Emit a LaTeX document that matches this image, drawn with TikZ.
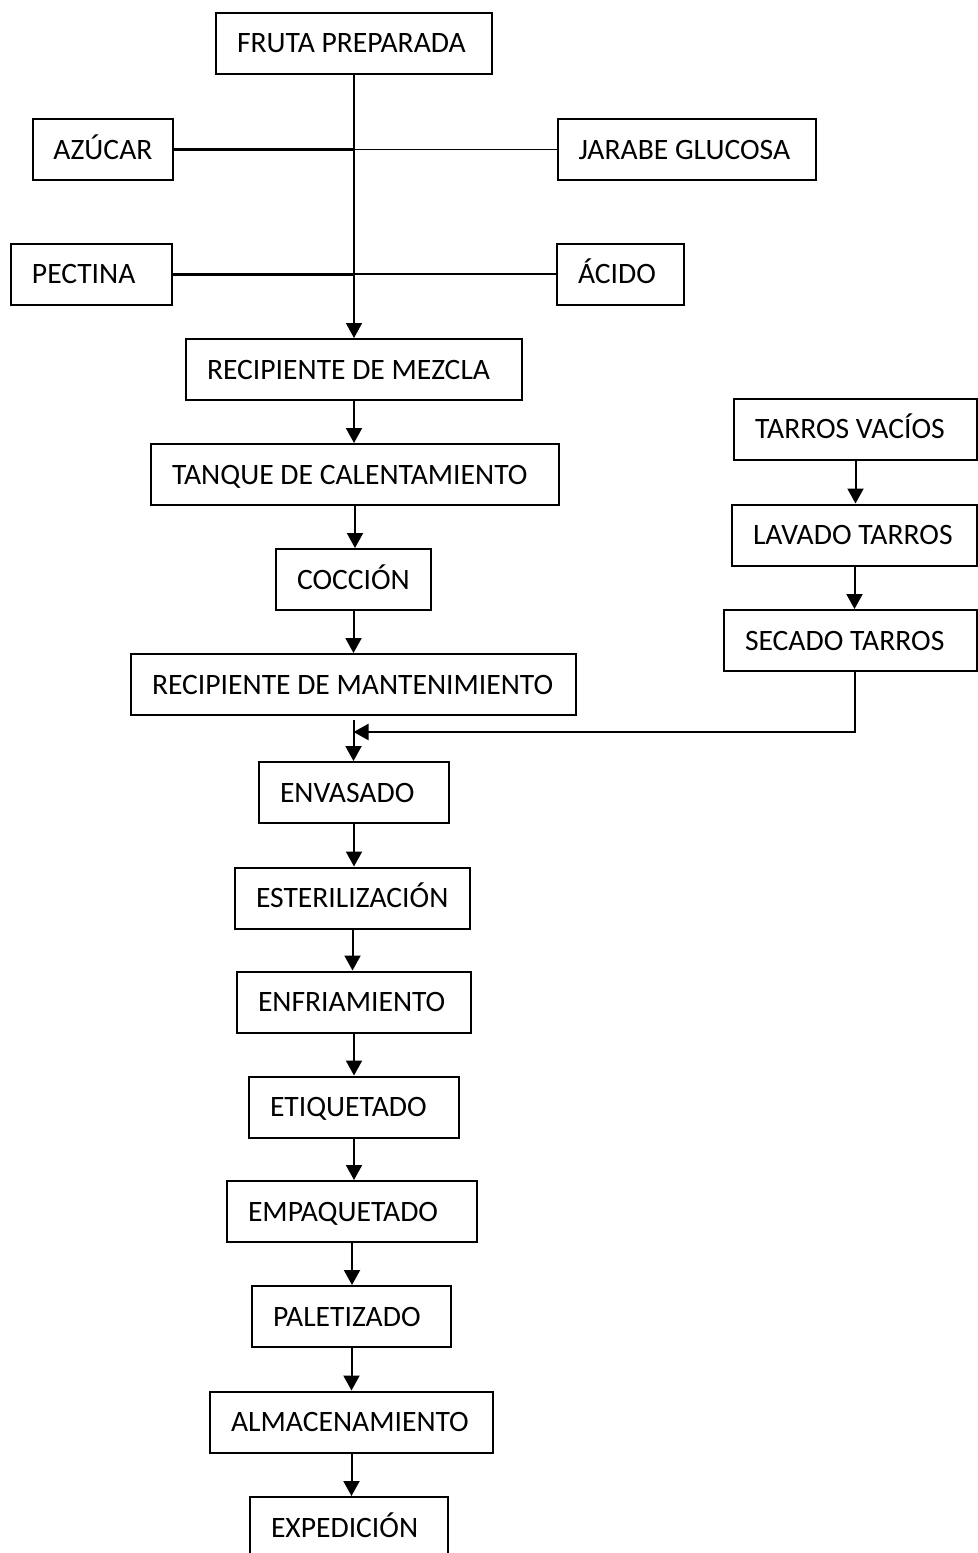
\documentclass[tikz,border=0pt]{standalone}
\usepackage{fontspec}
\setmainfont{Carlito}
\usetikzlibrary{arrows.meta}
\begin{document}
\begin{tikzpicture}[x=0.5pt,y=-0.5pt,
  box/.style={draw, line width=1pt, minimum height=30.5pt, inner xsep=10.5pt, inner ysep=0pt,
    text height=9.5pt, text depth=0pt, anchor=center, font=\fontsize{14.8pt}{17pt}\selectfont},
  flow/.style={line width=1pt, -{Triangle[width=8pt,length=7.5pt]}},
  thin/.style={line width=0.8pt},
  thick/.style={line width=1.5pt}]
\useasboundingbox (0,0) rectangle (978,1553);
% main column
\node[box, minimum width=138pt] (fruta) at (354,43) {\makebox[117pt][l]{FRUTA PREPARADA}};
\node[box, minimum width=70pt] (azucar) at (102.5,149.5) {\makebox[49pt][l]{AZÚCAR}};
\node[box, minimum width=129.25pt] (jarabe) at (686.75,149.5) {\makebox[108.25pt][l]{JARABE GLUCOSA}};
\node[box, minimum width=80.5pt] (pectina) at (91.5,274) {\makebox[59.5pt][l]{PECTINA}};
\node[box, minimum width=63.5pt] (acido) at (620.5,274) {\makebox[42.5pt][l]{ÁCIDO}};
\node[box, minimum width=168pt] (mezcla) at (354,369.5) {\makebox[147pt][l]{RECIPIENTE DE MEZCLA}};
\node[box, minimum width=204pt] (tanque) at (355,474.5) {\makebox[183pt][l]{TANQUE DE CALENTAMIENTO}};
\node[box, minimum width=77.5pt] (coccion) at (353.5,579.5) {\makebox[56.5pt][l]{COCCIÓN}};
\node[box, minimum width=222.5pt] (mant) at (353.5,684.5) {\makebox[201.5pt][l]{RECIPIENTE DE MANTENIMIENTO}};
% jars branch
\node[box, minimum width=121.5pt] (tarros) at (855.5,429) {\makebox[100.5pt][l]{TARROS VACÍOS}};
\node[box, minimum width=122.5pt] (lavado) at (854.5,535) {\makebox[101.5pt][l]{LAVADO TARROS}};
\node[box, minimum width=126.5pt] (secado) at (850.5,640.5) {\makebox[105.5pt][l]{SECADO TARROS}};
% lower column
\node[box, minimum width=95pt] (envasado) at (354,792.5) {\makebox[74pt][l]{ENVASADO}};
\node[box, minimum width=117.5pt] (ester) at (352.5,898) {\makebox[96.5pt][l]{ESTERILIZACIÓN}};
\node[box, minimum width=117pt] (enfri) at (354,1002) {\makebox[96pt][l]{ENFRIAMIENTO}};
\node[box, minimum width=105pt] (etiq) at (354,1107) {\makebox[84pt][l]{ETIQUETADO}};
\node[box, minimum width=125pt] (empaq) at (352,1211.5) {\makebox[104pt][l]{EMPAQUETADO}};
\node[box, minimum width=99.5pt] (palet) at (351.5,1316.5) {\makebox[78.5pt][l]{PALETIZADO}};
\node[box, minimum width=141.5pt] (almac) at (351.5,1422) {\makebox[120.5pt][l]{ALMACENAMIENTO}};
\node[box, minimum width=99pt] (exped) at (349,1527.5) {\makebox[78pt][l]{EXPEDICIÓN}};
% ingredient connectors
\draw[thick] (azucar.east) -- (azucar.east -| fruta.south);
\draw[thin] (jarabe.west) -- (jarabe.west -| fruta.south);
\draw[thick] (pectina.east) -- (pectina.east -| fruta.south);
\draw[thin] (acido.west) -- (acido.west -| fruta.south);
\draw[thin, -{Triangle[width=8pt,length=7.5pt]}] (fruta.south) -- (fruta.south |- mezcla.north);
% main flow
\draw[flow] (mezcla.south) -- (mezcla.south |- tanque.north);
\draw[flow] (tanque.south) -- (tanque.south |- coccion.north);
\draw[flow] (coccion.south) -- (coccion.south |- mant.north);
\coordinate (sj) at (855,732);
\coordinate (mj) at (mant.south |- sj);
\draw[flow, shorten <=2pt] (mant.south) -- (mant.south |- envasado.north);
\draw[flow] (secado.south -| sj) -- (sj) -- (mj);
\draw[flow] (tarros.south) -- (tarros.south |- lavado.north);
\draw[flow] (lavado.south) -- (lavado.south |- secado.north);
\draw[flow] (envasado.south) -- (envasado.south |- ester.north);
\draw[flow] (ester.south) -- (ester.south |- enfri.north);
\draw[flow] (enfri.south) -- (enfri.south |- etiq.north);
\draw[flow] (etiq.south) -- (etiq.south |- empaq.north);
\draw[flow] (empaq.south) -- (empaq.south |- palet.north);
\draw[flow] (palet.south) -- (palet.south |- almac.north);
\draw[flow] (almac.south) -- (almac.south |- exped.north);
\end{tikzpicture}
\end{document}
